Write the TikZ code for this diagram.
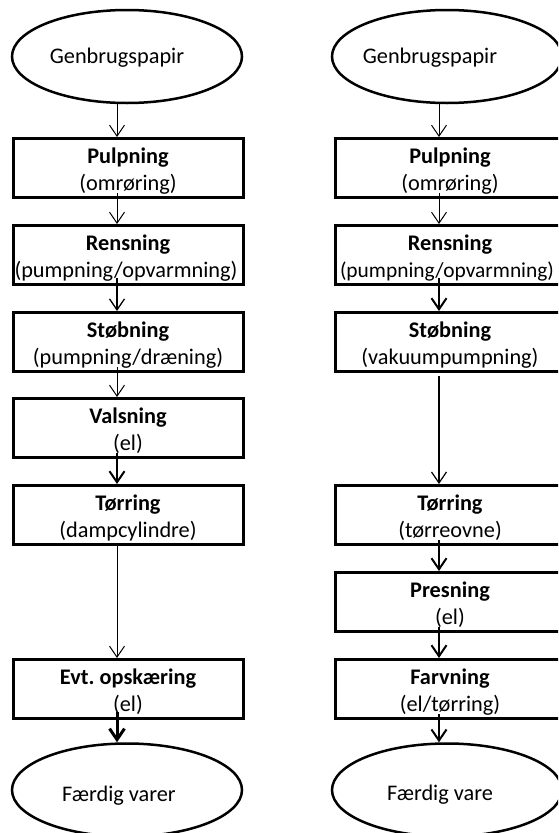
\documentclass[tikz,border=0pt]{standalone}
\usepackage{fontspec}
\setmainfont{Carlito}
\usetikzlibrary{arrows.meta,shapes.geometric,calc}

\tikzset{
  stepbox/.style={draw, line width=3pt, minimum width=230pt, minimum height=59pt,
    inner sep=0pt, anchor=north},
  oval/.style={ellipse, draw, line width=2.5pt, minimum width=230pt,
    minimum height=93pt, inner sep=0pt},
  ttl/.style={font=\fontsize{22.3}{27}\selectfont\bfseries, anchor=base, inner sep=0pt},
  sub/.style={font=\fontsize{22.3}{27}\selectfont, anchor=base, inner sep=0pt},
  subnarrow/.style={font=\fontsize{21.4}{27}\selectfont, anchor=base, inner sep=0pt},
  arr/.style={-{Straight Barb[length=11pt,width=15pt]}, line width=1pt},
}

\begin{document}
\begin{tikzpicture}[x=1pt, y=-1pt]
\useasboundingbox (0,0) rectangle (558,833);
\fill[white] (0,0) rectangle (558,833);
\clip (0,0) rectangle (558,833);

% arrow axes of the two columns
\coordinate (axL) at (117,0);
\coordinate (axR) at (439,0);

% ---------------- left column ----------------
\node[oval] (gL) at (127,56.5) {};
\node[sub] (gLt) at (117,63) {Genbrugspapir};

\node[stepbox] (pL) at (128,137) {};
\node[ttl] (pLa) at (128,163) {Pulpning};
\node[sub] (pLb) at (128,190) {(omrøring)};

\node[stepbox] (rL) at (128,224) {};
\node[ttl] (rLa) at (128,250) {Rensning};
\node[sub] (rLb) at (126,277) {(pumpning/opvarmning)};

\node[stepbox] (sL) at (128,311) {};
\node[ttl] (sLa) at (128,337) {Støbning};
\node[sub] (sLb) at (128,364) {(pumpning/dræning)};

\node[stepbox] (vL) at (128,397) {};
\node[ttl] (vLa) at (128,423) {Valsning};
\node[sub] (vLb) at (128,450) {(el)};

\node[stepbox] (tL) at (128,484) {};
\node[ttl] (tLa) at (128,510) {Tørring};
\node[sub] (tLb) at (128,537) {(dampcylindre)};

\node[stepbox] (eL) at (128,658) {};
\node[ttl] (eLa) at (128,684) {Evt.\ opskæring};
\node[sub] (eLb) at (128,711) {(el)};

\node[oval] (fL) at (127,790) {};
\node[sub] (fLt) at (119,801) {Færdig varer};

\draw[arr] (gL.south -| axL) -- (pL.north -| axL);
\draw[arr] ($(pL.south -| axL)+(0,-6)$) -- (rL.north -| axL);
\draw[arr, line width=1.3pt] ($(rL.south -| axL)+(0,-8)$) -- (sL.north -| axL);
\draw[arr] ($(sL.south -| axL)+(0,-6)$) -- (vL.north -| axL);
\draw[arr, line width=2pt] ($(vL.south -| axL)+(0,-6)$) -- (tL.north -| axL);
\draw[arr] (tL.south -| axL) -- (eL.north -| axL);
\draw[arr, line width=3pt] ($(eL.south -| axL)+(0,-8)$) -- (fL.north -| axL);

% ---------------- right column ----------------
\node[oval] (gR) at (447,56.5) {};
\node[sub] (gRt) at (430,63) {Genbrugspapir};

\node[stepbox] (pR) at (450,137) {};
\node[ttl] (pRa) at (450,163) {Pulpning};
\node[sub] (pRb) at (450,190) {(omrøring)};

\node[stepbox] (rR) at (450,224) {};
\node[ttl] (rRa) at (450,250) {Rensning};
\node[subnarrow] (rRb) at (447,277) {(pumpning/opvarmning)};

\node[stepbox] (sR) at (450,311) {};
\node[ttl] (sRa) at (450,337) {Støbning};
\node[sub] (sRb) at (450,364) {(vakuumpumpning)};

\node[stepbox] (tR) at (450,484) {};
\node[ttl] (tRa) at (450,510) {Tørring};
\node[sub] (tRb) at (450,537) {(tørreovne)};

\node[stepbox] (prR) at (450,571) {};
\node[ttl] (prRa) at (450,597) {Presning};
\node[sub] (prRb) at (450,624) {(el)};

\node[stepbox] (faR) at (450,658) {};
\node[ttl] (faRa) at (450,684) {Farvning};
\node[sub] (faRb) at (450,711) {(el/tørring)};

\node[oval] (fR) at (447,790) {};
\node[sub] (fRt) at (440,800) {Færdig vare};

\draw[arr] (gR.south -| axR) -- (pR.north -| axR);
\draw[arr] ($(pR.south -| axR)+(0,-6)$) -- (rR.north -| axR);
\draw[arr, line width=2pt] ($(rR.south -| axR)+(0,-8)$) -- (sR.north -| axR);
\draw[arr, line width=1.2pt] ($(sR.south -| axR)+(0,3)$) -- (tR.north -| axR);
\draw[arr, line width=2pt] ($(tR.south -| axR)+(0,-6)$) -- (prR.north -| axR);
\draw[arr, line width=2pt] ($(prR.south -| axR)+(0,-6)$) -- (faR.north -| axR);
\draw[arr, line width=2pt] ($(faR.south -| axR)+(0,-6)$) -- (fR.north -| axR);
\end{tikzpicture}
\end{document}
